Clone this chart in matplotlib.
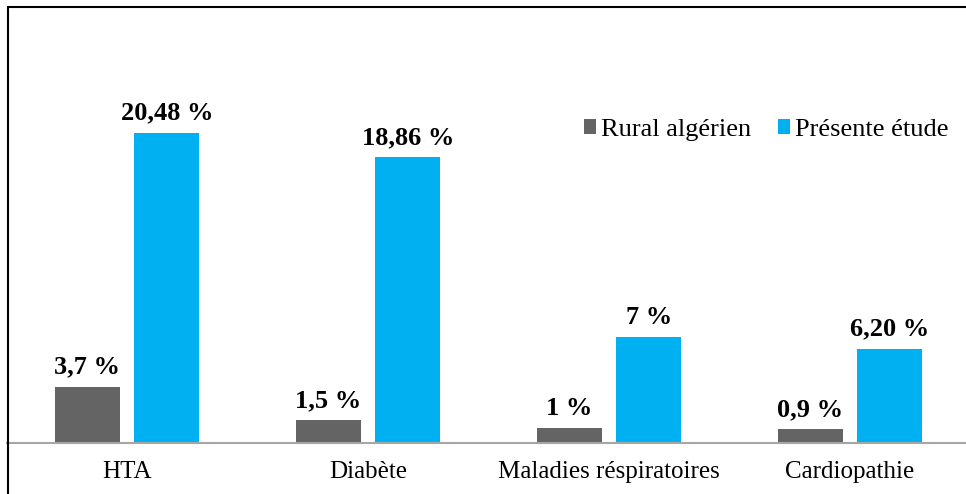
import matplotlib
matplotlib.use("Agg")
from matplotlib import pyplot as plt
from matplotlib.patches import Rectangle
import numpy as np

categories = ["HTA", "Diabète", "Maladies réspiratoires", "Cardiopathie"]
rural = [3.7, 1.5, 1, 0.9]
etude = [20.48, 18.86, 7, 6.20]
rural_labels = ["3,7 %", "1,5 %", "1 %", "0,9 %"]
etude_labels = ["20,48 %", "18,86 %", "7 %", "6,20 %"]
series_names = ["Rural algérien", "Présente étude"]

plt.rcParams['font.family'] = ['Liberation Serif', 'DejaVu Serif']

fig = plt.figure(figsize=(9.66, 4.94), dpi=100)
ax = fig.add_axes([6.5 / 966, 51 / 494, 964 / 966, 378.5 / 494])

ind = np.arange(len(categories))
width = 0.27
off = 0.165
b1 = ax.bar(ind - off, rural, width, color='#646464', label=series_names[0])
b2 = ax.bar(ind + off, etude, width, color='#00B0F0', label=series_names[1])

for rect, lab in zip(b1, rural_labels):
    ax.annotate(lab, (rect.get_x() + rect.get_width() / 2, rect.get_height()),
                xytext=(0, 6), textcoords='offset points', ha='center', va='bottom',
                fontsize=19, fontweight='bold')
for rect, lab in zip(b2, etude_labels):
    ax.annotate(lab, (rect.get_x() + rect.get_width() / 2, rect.get_height()),
                xytext=(0, 6), textcoords='offset points', ha='center', va='bottom',
                fontsize=19, fontweight='bold')

ax.set_xlim(-0.5, 3.5)
ax.set_ylim(0, 25)
ax.set_xticks(ind)
ax.set_xticklabels(categories, fontsize=18)
ax.tick_params(axis='x', length=0, pad=13)
ax.set_yticks([])
for s in ['top', 'right', 'left']:
    ax.spines[s].set_visible(False)
ax.spines['bottom'].set_color('#A6A6A6')
ax.spines['bottom'].set_linewidth(1.5)

ax.legend(loc='center left', bbox_to_anchor=(584 / 966, 1 - 130 / 494),
          bbox_transform=fig.transFigure, ncol=2, frameon=False, fontsize=19,
          borderpad=0, borderaxespad=0,
          handlelength=0.46, handleheight=0.46, handletextpad=0.2, columnspacing=1.0)

# cadre du graphique
fig.add_artist(Rectangle((7.5 / 966, -0.2), 1.2, 1.2 - 7.5 / 494, fill=False,
                         edgecolor='black', lw=1.5, transform=fig.transFigure))

fig.savefig("out.png", dpi=100)
